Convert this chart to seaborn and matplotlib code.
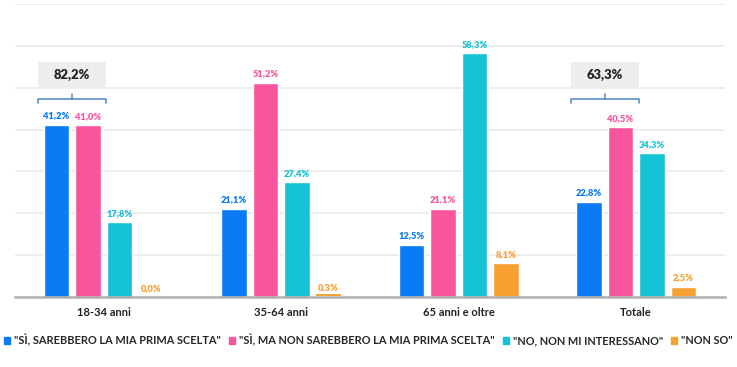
import matplotlib
matplotlib.use("Agg")
import matplotlib.pyplot as plt
import seaborn as sns
import pandas as pd
from matplotlib.patches import Rectangle

categories = ["18-34 anni", "35-64 anni", "65 anni e oltre", "Totale"]
series = ['"SÌ, SAREBBERO LA MIA PRIMA SCELTA"',
          '"SÌ, MA NON SAREBBERO LA MIA PRIMA SCELTA"',
          '"NO, NON MI INTERESSANO"',
          '"NON SO"']
si_prima = [41.2, 21.1, 12.5, 22.8]
si_non_prima = [41.0, 51.2, 21.1, 40.5]
no_interessano = [17.8, 27.4, 58.3, 34.3]
non_so = [0.0, 0.3, 8.1, 2.5]
totals_cat = ["18-34 anni", "Totale"]
totals_val = [82.2, 63.3]

colors = ["#0b7bf5", "#f8559e", "#16c2d5", "#f7a031"]

rows = []
for s, vals in zip(series, [si_prima, si_non_prima, no_interessano, non_so]):
    for c, v in zip(categories, vals):
        rows.append({"cat": c, "serie": s, "val": v})
df = pd.DataFrame(rows)

sns.set_theme(style="white")
plt.rcParams['font.family'] = ['Lato', 'DejaVu Sans']

fig = plt.figure(figsize=(7.37, 3.67), dpi=100)
ax = fig.add_axes([15/737, (367-297)/367, 710/737, 293/367])

sns.barplot(data=df, x="cat", y="val", hue="serie", order=categories,
            hue_order=series, palette=colors, width=0.71, gap=0.2,
            saturation=1, ax=ax, legend=False)

ax.set_ylim(0, 70)
ax.set_xlim(-0.5, 3.5)
ax.set_yticks(range(0, 71, 10))
ax.yaxis.grid(True, color="#ececec", linewidth=1.3)
ax.set_axisbelow(True)
ax.tick_params(axis="y", left=False, labelleft=False)
ax.tick_params(axis="x", bottom=False, pad=1)
for lab in ax.get_xticklabels():
    lab.set_fontweight("bold")
    lab.set_fontsize(8)
    lab.set_color("#222222")
ax.set_xlabel("")
ax.set_ylabel("")
for sp in ["top", "right", "left"]:
    ax.spines[sp].set_visible(False)
ax.spines["bottom"].set_color("#b0b0b0")
ax.spines["bottom"].set_linewidth(1.8)

for cont, col in zip(ax.containers, colors):
    labels = [f"{v:.1f}".replace(".", ",") + "%" for v in cont.datavalues]
    ax.bar_label(cont, labels=labels, padding=3, color=col, fontsize=6.7,
                 fontweight="heavy")
    for bar, v in zip(cont, cont.datavalues):
        if 0 < v < 1:
            ax.plot([bar.get_x(), bar.get_x() + bar.get_width()], [0.45, 0.45],
                    color=col, lw=1.4, solid_capstyle="butt", zorder=5)

bracket_col = "#4d87c0"
for c, t in zip(totals_cat, totals_val):
    g = categories.index(c)
    x0, x1 = g - 0.37, g + 0.015
    ax.add_patch(Rectangle((x0, 49.8), x1 - x0, 6.3, facecolor="#eeeeee",
                           edgecolor="none", zorder=3))
    ax.text((x0 + x1) / 2, 52.95, f"{t:.1f}".replace(".", ",") + "%",
            ha="center", va="center", fontsize=9.3, fontweight="heavy",
            color="#222222", zorder=4)
    xm = (x0 + x1) / 2
    ax.plot([x0, x0, x1, x1], [46.3, 47.4, 47.4, 46.3], color=bracket_col,
            lw=1.1, zorder=4)
    ax.plot([xm, xm], [47.4, 48.6], color=bracket_col, lw=1.1, zorder=4)

handles = [Rectangle((0, 0), 1, 1, color=c) for c in colors]
fig.legend(handles, series, loc="center", bbox_to_anchor=(0.5, (367-340)/367),
           ncol=4, frameon=False, handlelength=0.55, handleheight=0.55,
           handletextpad=0.35, columnspacing=0.75,
           prop={"weight": "bold", "size": 7.9})

fig.savefig("out.png", dpi=100)
